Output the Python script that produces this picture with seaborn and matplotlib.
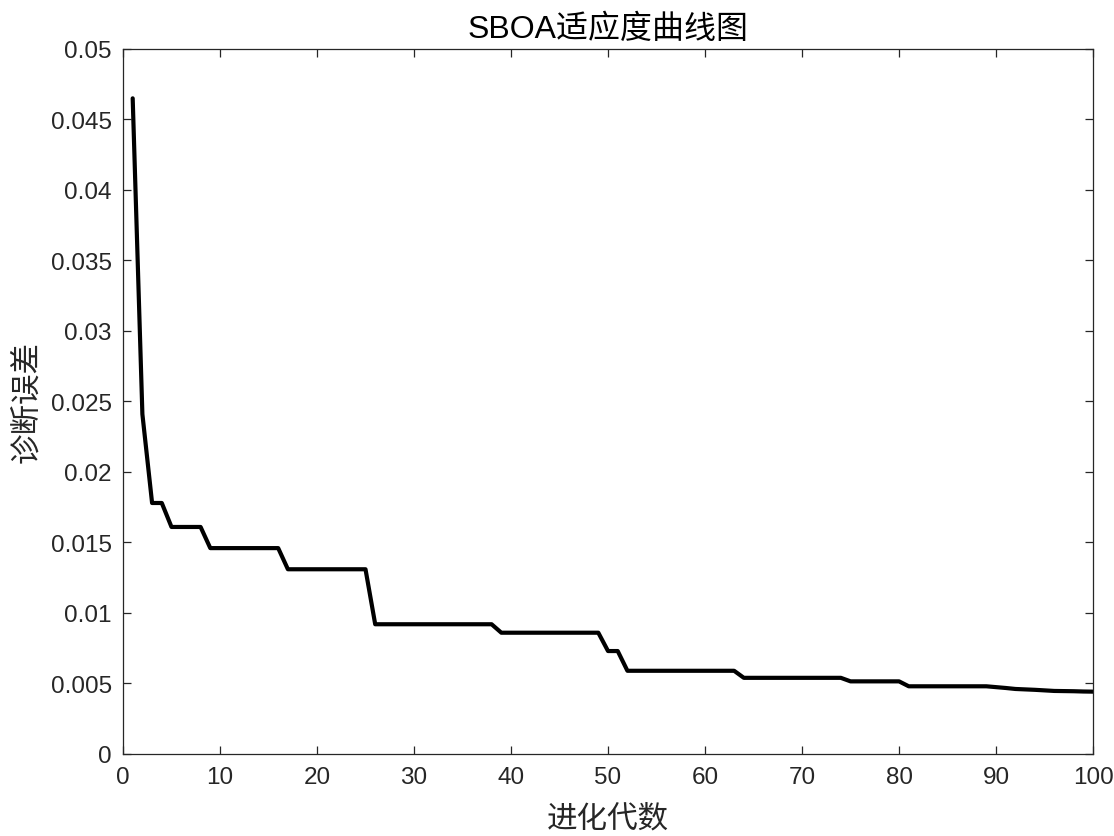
import numpy as np
import pandas as pd
import matplotlib
matplotlib.use("Agg")
import matplotlib.pyplot as plt
import seaborn as sns

# evolution generations and best fitness (diagnosis error)
generations = list(range(1, 101))
fitness = [
    0.0465, 0.0241, 0.0178, 0.0178, 0.0161, 0.0161, 0.0161, 0.0161, 0.0146, 0.0146,
    0.0146, 0.0146, 0.0146, 0.0146, 0.0146, 0.0146, 0.0131, 0.0131, 0.0131, 0.0131,
    0.0131, 0.0131, 0.0131, 0.0131, 0.0131, 0.0092, 0.0092, 0.0092, 0.0092, 0.0092,
    0.0092, 0.0092, 0.0092, 0.0092, 0.0092, 0.0092, 0.0092, 0.0092, 0.0086, 0.0086,
    0.0086, 0.0086, 0.0086, 0.0086, 0.0086, 0.0086, 0.0086, 0.0086, 0.0086, 0.0073,
    0.0073, 0.0059, 0.0059, 0.0059, 0.0059, 0.0059, 0.0059, 0.0059, 0.0059, 0.0059,
    0.0059, 0.0059, 0.0059, 0.0054, 0.0054, 0.0054, 0.0054, 0.0054, 0.0054, 0.0054,
    0.0054, 0.0054, 0.0054, 0.0054, 0.00515, 0.00515, 0.00515, 0.00515, 0.00515, 0.00515,
    0.0048, 0.0048, 0.0048, 0.0048, 0.0048, 0.0048, 0.0048, 0.0048, 0.0048, 0.00474,
    0.00468, 0.00461, 0.00458, 0.00455, 0.00451, 0.00447, 0.00446, 0.00445, 0.00443, 0.00442,
]
x_ticks = list(range(0, 101, 10))
y_ticks = [0, 0.005, 0.01, 0.015, 0.02, 0.025, 0.03, 0.035, 0.04, 0.045, 0.05]

sns.set_style("white")
plt.rcParams['font.family'] = ['Liberation Sans', 'Noto Sans CJK SC', 'DejaVu Sans']

df = pd.DataFrame({"gen": generations, "err": fitness})

fig = plt.figure(figsize=(11.14, 8.37), dpi=100)
ax = fig.add_axes([0.1104, 0.098, 0.8708, 0.8423])
sns.lineplot(data=df, x="gen", y="err", color="black", linewidth=3, ax=ax)

ax.set_xlim(0, 100)
ax.set_ylim(0, 0.05)
ax.set_xticks(x_ticks)
ax.set_yticks(y_ticks)
ax.set_yticklabels([f"{v:g}" for v in y_ticks])

for s in ax.spines.values():
    s.set_color("#262626")
    s.set_linewidth(0.9)
ax.tick_params(direction="in", length=6, width=0.9, color="#262626",
               labelsize=17.5, labelcolor="#262626",
               top=True, right=True, bottom=True, left=True)
ax.tick_params(axis="x", pad=9)
ax.tick_params(axis="y", pad=8)

ax.set_title("SBOA适应度曲线图", fontsize=23, pad=9, color="black")
ax.set_xlabel("进化代数", fontsize=22, color="#262626", labelpad=10,
              family=['Noto Sans CJK SC'], fontweight='light')
ax.set_ylabel("诊断误差", fontsize=22, color="#262626", labelpad=6,
              family=['Noto Sans CJK SC'], fontweight='light')

fig.savefig("out.png", dpi=100, facecolor="white")
